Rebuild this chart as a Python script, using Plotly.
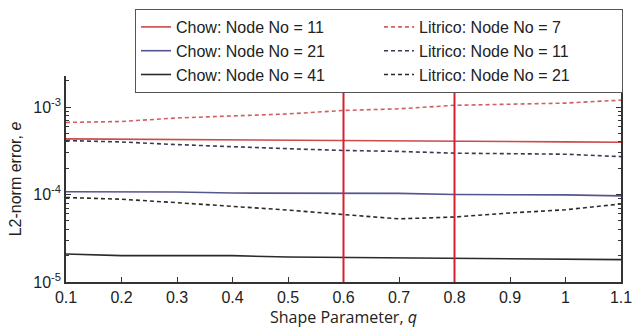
import plotly.graph_objects as go

q = [0.1, 0.2, 0.3, 0.4, 0.5, 0.6, 0.7, 0.8, 0.9, 1.0, 1.1]

chow_11 = [4.33e-4, 4.30e-4, 4.26e-4, 4.24e-4, 4.21e-4, 4.18e-4, 4.12e-4, 4.07e-4, 4.04e-4, 4.00e-4, 3.96e-4]
chow_21 = [1.076e-4, 1.076e-4, 1.07e-4, 1.04e-4, 1.038e-4, 1.035e-4, 1.03e-4, 1.0e-4, 1.0e-4, 0.99e-4, 0.966e-4]
chow_41 = [2.09e-5, 2.0e-5, 2.0e-5, 2.0e-5, 1.93e-5, 1.91e-5, 1.91e-5, 1.86e-5, 1.85e-5, 1.83e-5, 1.80e-5]
litrico_7 = [6.67e-4, 6.84e-4, 7.5e-4, 7.98e-4, 8.35e-4, 9.14e-4, 9.55e-4, 1.047e-3, 1.07e-3, 1.11e-3, 1.2e-3]
litrico_11 = [4.14e-4, 3.99e-4, 3.72e-4, 3.56e-4, 3.34e-4, 3.19e-4, 3.11e-4, 2.97e-4, 2.94e-4, 2.89e-4, 2.71e-4]
litrico_21 = [9.25e-5, 8.83e-5, 8.07e-5, 7.39e-5, 6.64e-5, 5.9e-5, 5.27e-5, 5.53e-5, 6.15e-5, 6.7e-5, 7.8e-5]

marked_q = [0.6, 0.8]

x_ticks = [0.1, 0.2, 0.3, 0.4, 0.5, 0.6, 0.7, 0.8, 0.9, 1.0, 1.1]
x_tick_text = ["0.1", "0.2", "0.3", "0.4", "0.5", "0.6", "0.7", "0.8", "0.9", "1", "1.1"]
y_ticks = [1e-5, 1e-4, 1e-3]
y_tick_text = ["10<sup>-5</sup>", "10<sup>-4</sup>", "10<sup>-3</sup>"]

series = [
    ("Chow: Node No = 11", chow_11, "#cc4a4a", "solid"),
    ("Litrico: Node No = 7", litrico_7, "#d06060", "4px,3px"),
    ("Chow: Node No = 21", chow_21, "#55558f", "solid"),
    ("Litrico: Node No = 11", litrico_11, "#3a3a55", "4px,3px"),
    ("Chow: Node No = 41", chow_41, "#2a2a2a", "solid"),
    ("Litrico: Node No = 21", litrico_21, "#2a2a2a", "4px,3px"),
]

fig = go.Figure()
for name, ys, color, dash in series:
    fig.add_trace(go.Scatter(x=q, y=ys, mode="lines", name=name,
                             line=dict(color=color, width=1.6, dash=dash)))

for xv in marked_q:
    fig.add_vline(x=xv, line=dict(color="#d42030", width=2), layer="above")

font_main = "Liberation Sans, Arial, sans-serif"

fig.update_layout(
    width=640, height=330,
    margin=dict(l=66, r=19, t=76, b=48, autoexpand=False),
    paper_bgcolor="white", plot_bgcolor="white",
    font=dict(family=font_main, size=14, color="#222"),
    showlegend=True,
    legend=dict(
        orientation="h",
        xref="container", yref="container",
        x=135 / 640, y=1 - 9 / 330, xanchor="left", yanchor="top",
        entrywidth=198,
        bgcolor="white", bordercolor="#555", borderwidth=1,
        font=dict(family=font_main, size=16, color="#222"),
    ),
    xaxis=dict(
        range=[0.1, 1.1], tickvals=x_ticks, ticktext=x_tick_text,
        ticks="inside", ticklen=5, tickcolor="#333",
        showline=True, linecolor="#333", linewidth=1.5, mirror=False,
        showgrid=False, zeroline=False,
        tickfont=dict(size=16, family=font_main),
        title=dict(text="Shape Parameter, <i>q</i>", font=dict(family="Open Sans, sans-serif", size=16), standoff=2),
    ),
    yaxis=dict(
        type="log", range=[-5, -2.645],
        tickvals=y_ticks, ticktext=y_tick_text,
        ticks="inside", ticklen=5, tickcolor="#333",
        minor=dict(ticks="inside", ticklen=3, tickcolor="#333", dtick="D1", showgrid=False),
        showline=True, linecolor="#333", linewidth=1.5, mirror="ticks",
        showgrid=False, zeroline=False,
        tickfont=dict(size=16, family=font_main),
        title=dict(text="L2-norm error, <i>e</i>", font=dict(family=font_main, size=16), standoff=8),
    ),
)

fig.write_html("out.html", config={"displayModeBar": False},
               post_script="document.body.style.margin='0';")
